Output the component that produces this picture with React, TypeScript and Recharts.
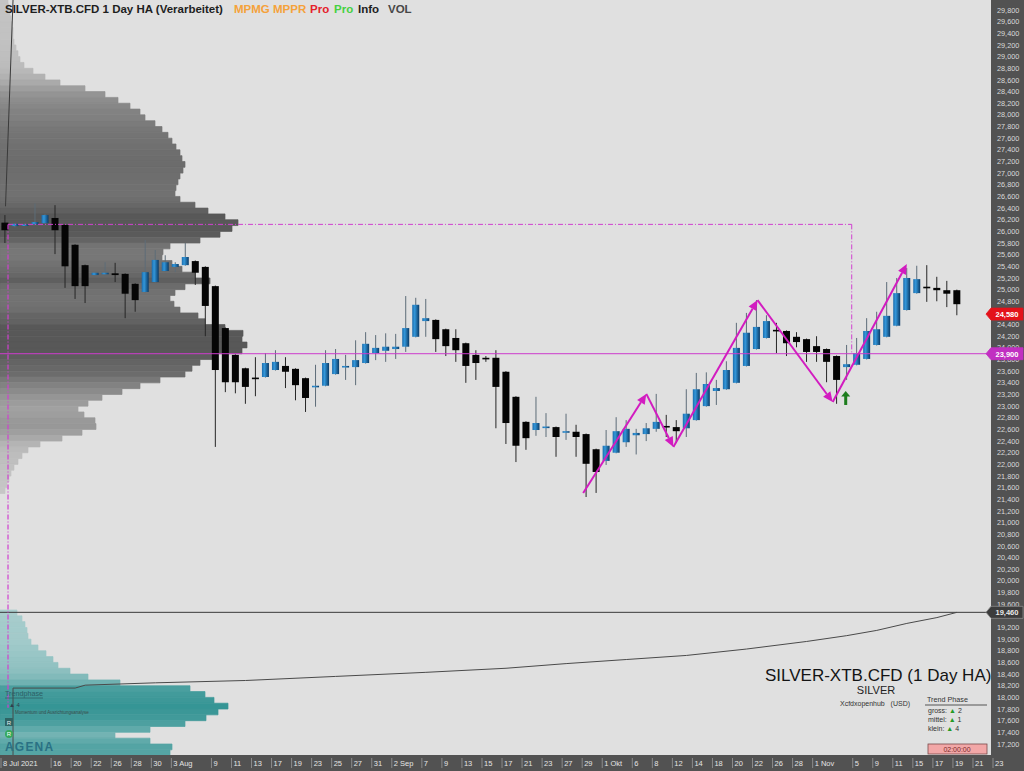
import React from "react";
import {
  ComposedChart,
  Bar,
  Line,
  XAxis,
  YAxis,
  CartesianGrid,
  ReferenceLine,
  ReferenceArea,
  ReferenceDot,
} from "recharts";

const FONT = "'Liberation Sans', Arial, sans-serif";

// ---- trading days (one heikin-ashi candle each) ----
const dates = [
  "2021-07-08","2021-07-12","2021-07-13","2021-07-14","2021-07-15","2021-07-16","2021-07-19","2021-07-20",
  "2021-07-21","2021-07-22","2021-07-23","2021-07-26","2021-07-27","2021-07-28","2021-07-29","2021-07-30",
  "2021-08-02","2021-08-03","2021-08-04","2021-08-05","2021-08-06","2021-08-09","2021-08-10","2021-08-11",
  "2021-08-12","2021-08-13","2021-08-16","2021-08-17","2021-08-18","2021-08-19","2021-08-20","2021-08-23",
  "2021-08-24","2021-08-25","2021-08-26","2021-08-27","2021-08-30","2021-08-31","2021-09-01","2021-09-02",
  "2021-09-03","2021-09-06","2021-09-07","2021-09-08","2021-09-09","2021-09-10","2021-09-13","2021-09-14",
  "2021-09-15","2021-09-16","2021-09-17","2021-09-20","2021-09-21","2021-09-22","2021-09-23","2021-09-24",
  "2021-09-27","2021-09-28","2021-09-29","2021-09-30","2021-10-01","2021-10-04","2021-10-05","2021-10-06",
  "2021-10-07","2021-10-08","2021-10-11","2021-10-12","2021-10-13","2021-10-14","2021-10-15","2021-10-18",
  "2021-10-19","2021-10-20","2021-10-21","2021-10-22","2021-10-25","2021-10-26","2021-10-27","2021-10-28",
  "2021-10-29","2021-11-01","2021-11-02","2021-11-03","2021-11-04","2021-11-05","2021-11-08","2021-11-09",
  "2021-11-10","2021-11-11","2021-11-12","2021-11-15","2021-11-16","2021-11-17","2021-11-18","2021-11-19",
];
const futureDates = ["2021-11-20", "2021-11-21", "2021-11-22", "2021-11-23"];

const opens = [
  26150,26090,26100,26120,26140,26230,26110,25770,25420,25250,25280,25280,25270,25100,24960,25130,
  25320,25390,25420,25490,25390,25060,24340,23880,23650,23490,23500,23620,23690,23640,23480,23330,
  23350,23550,23670,23670,23740,23910,23950,23980,24020,24190,24460,24480,24320,24170,24080,23880,
  23830,23830,23590,23160,22730,22590,22640,22640,22560,22560,22520,22260,22060,22200,22380,22500,
  22520,22610,22660,22640,22620,22760,23000,23260,23290,23400,23690,23980,24170,24310,24290,24190,
  24150,24030,23980,23860,23670,23710,23810,24050,24190,24380,24650,24940,25050,25030,24990,24990,
];
const highs = [
  26280,26140,26140,26480,26300,26450,26120,25780,25430,25300,25470,25460,25280,25110,25850,25680,
  25590,25470,25800,25500,25400,25070,24350,23890,23660,23840,23910,23960,23840,23650,23490,23710,
  23960,23980,23880,24130,24270,24220,24250,24240,24890,24860,24840,24490,24330,24320,24090,23960,
  23860,23960,23600,23170,22740,23160,22880,22650,22870,22680,22530,22270,22590,22810,22760,22610,
  22710,23210,22850,22760,23290,23570,23580,23450,23770,24430,24600,24820,24560,24430,24300,24270,
  24160,24200,23990,23870,24050,24170,24510,24620,25130,25200,25370,25410,25420,25220,25150,25000,
];
const lows = [
  25800,26070,26090,26110,26140,25610,25030,24840,24770,25230,25250,25130,24510,24620,24950,25120,
  25310,25300,25410,25080,24200,22300,23240,23220,23040,23170,23490,23610,23310,23100,22900,22990,
  23340,23540,23450,23360,23730,23790,23760,23810,23930,24180,24190,23930,23860,23760,23400,23450,
  23760,22620,22350,22040,22250,22490,22470,22130,22420,22130,21440,21510,21990,22190,22300,22170,
  22400,22560,22470,22370,22470,22750,22990,23020,23280,23390,23680,23970,24160,23910,23860,24010,
  23760,23760,23410,23040,23450,23700,23800,24040,24180,24370,24640,24930,24790,24800,24700,24560,
];
const closes = [
  26020,26130,26120,26160,26280,26020,25400,25060,25060,25290,25290,25250,24930,24820,25300,25510,
  25470,25440,25560,25290,24720,23620,23410,23410,23330,23480,23740,23760,23590,23360,23140,23350,
  23740,23810,23690,23790,24070,24000,24020,24020,24340,24740,24510,24150,24030,23960,23690,23740,
  23820,23330,22710,22320,22450,22710,22650,22470,22570,22470,22010,21870,22320,22570,22610,22540,
  22620,22730,22650,22570,22870,23290,23380,23310,23620,24000,24260,24360,24460,24290,24080,24100,
  23930,23930,23760,23450,23720,23910,24290,24320,24550,24940,25200,25180,25030,24990,24930,24750,
];

// x-axis labels shown under the candles
const tickLabels: [string, string][] = [
  ["2021-07-08", "8 Jul 2021"], ["2021-07-16", "16"], ["2021-07-20", "20"], ["2021-07-22", "22"],
  ["2021-07-26", "26"], ["2021-07-28", "28"], ["2021-07-30", "30"], ["2021-08-03", "3 Aug"],
  ["2021-08-09", "9"], ["2021-08-11", "11"], ["2021-08-13", "13"], ["2021-08-17", "17"],
  ["2021-08-19", "19"], ["2021-08-23", "23"], ["2021-08-25", "25"], ["2021-08-27", "27"],
  ["2021-08-31", "31"], ["2021-09-02", "2 Sep"], ["2021-09-07", "7"], ["2021-09-09", "9"],
  ["2021-09-13", "13"], ["2021-09-15", "15"], ["2021-09-17", "17"], ["2021-09-21", "21"],
  ["2021-09-23", "23"], ["2021-09-27", "27"], ["2021-09-29", "29"], ["2021-10-01", "1 Okt"],
  ["2021-10-06", "6"], ["2021-10-08", "8"], ["2021-10-12", "12"], ["2021-10-14", "14"],
  ["2021-10-18", "18"], ["2021-10-20", "20"], ["2021-10-22", "22"], ["2021-10-26", "26"],
  ["2021-10-28", "28"], ["2021-11-01", "1 Nov"], ["2021-11-05", "5"], ["2021-11-09", "9"],
  ["2021-11-11", "11"], ["2021-11-15", "15"], ["2021-11-17", "17"], ["2021-11-19", "19"],
  ["2021-11-21", "21"], ["2021-11-23", "23"],
];

// price tags on the right axis
const priceTags: { price: number; text: string; fill: string; color: string; stroke: string }[] = [
  { price: 24580, text: "24,580", fill: "#e3121a", color: "#ffffff", stroke: "#e3121a" },
  { price: 23900, text: "23,900", fill: "#c12fc1", color: "#ffffff", stroke: "#c12fc1" },
  { price: 19460, text: "19,460", fill: "#3c3c3c", color: "#e8e8e8", stroke: "#8a8a8a" },
];
// right axis: every 200 from 17,200 to 29,800 (24,600 and 19,400 are covered by tags)
const hiddenTicks = [24600, 19400];
const gridTicks = Array.from({ length: 64 }, (_, i) => 17200 + 200 * i).filter((v) => !hiddenTicks.includes(v));
const priceTicks = [...gridTicks, ...priceTags.map((t) => t.price)];

// volume profile (upper, gray): [row price, volume]
const grayProfile: [number, number][] = [
  [29900, 8], [29800, 9], [29700, 10], [29600, 11], [29500, 12], [29400, 13], [29300, 13], [29200, 14],
  [29100, 16], [29000, 18], [28900, 20], [28800, 24], [28700, 33], [28600, 45], [28500, 60], [28400, 85],
  [28300, 105], [28200, 118], [28100, 130], [28000, 140], [27900, 145], [27800, 155], [27700, 162],
  [27600, 168], [27500, 172], [27400, 176], [27300, 180], [27200, 182], [27100, 185], [27000, 183],
  [26900, 180], [26800, 178], [26700, 176], [26600, 175], [26500, 180], [26400, 195], [26300, 208],
  [26200, 225], [26100, 238], [26000, 232], [25900, 220], [25800, 200], [25700, 170], [25600, 163],
  [25500, 162], [25400, 172], [25300, 182], [25200, 195], [25100, 210], [25000, 185], [24900, 175],
  [24800, 170], [24700, 174], [24600, 180], [24500, 198], [24400, 205], [24300, 225], [24200, 243],
  [24100, 242], [24000, 247], [23900, 242], [23800, 215], [23700, 200], [23600, 192], [23500, 185],
  [23400, 160], [23300, 140], [23200, 122], [23100, 102], [23000, 88], [22900, 78], [22800, 84],
  [22700, 95], [22600, 96], [22500, 82], [22400, 62], [22300, 40], [22200, 28], [22100, 22],
  [22000, 18], [21900, 14], [21800, 11], [21700, 9], [21600, 7], [21500, 5],
];
// volume profile (lower, teal)
const tealProfile: [number, number][] = [
  [19400, 17], [19300, 22], [19200, 25], [19100, 27], [19000, 28], [18900, 31], [18800, 38], [18700, 46],
  [18600, 53], [18500, 58], [18400, 70], [18300, 88], [18200, 120], [18100, 190], [18000, 205],
  [17900, 214], [17800, 228], [17700, 218], [17600, 206], [17500, 185], [17400, 150], [17300, 115],
  [17200, 150], [17100, 172], [17000, 170],
];
const profileStep = 100;
// profile volume expressed in candle slots (full profile scale = chart width)
const volPerSlot = 991 / 98.9;

const pocPrice = 26120;
const valuePrice = 23900;
const lowerLevel = 19460;
const pocEndSlot = 84.5;
const pocStartSlot = 0.3;
const pocDropTo = 17820;

// magenta zig-zag swing points: [slot, price]
const zigzag: [number, number][] = [
  [57.7, 21510], [64.0, 23210], [66.7, 22300], [75.1, 24820], [82.6, 23070], [90.0, 25440],
];
const signalArrow: [number, number] = [83.9, 23140];

// slow indicator line: [slot, value]
const indicator: [number, number][] = [
  [0.8, 17011], [0.8, 18160], [7, 18160], [8, 18210], [15, 18250], [24, 18290], [33, 18360],
  [42, 18430], [50, 18500], [56, 18580], [62, 18650], [68, 18720], [74, 18830], [80, 18960],
  [84, 19060], [87, 19150], [90, 19270], [93, 19370], [95, 19460],
];
const steepLine: [number, number][] = [[0.05, 26430], [0.8, 29972]];

// ---------------------------------------------------------------
const allSlots = [...dates, ...futureDates];
const slotOf = (d: string) => allSlots.indexOf(d);
const candles = dates.map((d, i) => ({ x: i, date: d, o: opens[i], h: highs[i], l: lows[i], c: closes[i] }));
const tickSlots = tickLabels.map(([d]) => slotOf(d));
const tickText = new Map(tickLabels.map(([d, l]) => [slotOf(d), l]));
const indicatorData = indicator.map(([x, v]) => ({ x, v }));
const tagByPrice = new Map(priceTags.map((t) => [t.price, t]));
const X_MIN = -0.5;

const grayShade = (v: number) => {
  const g = Math.max(88, Math.round(200 - 0.5 * v));
  return `rgb(${g},${g},${g})`;
};
const tealShade = (v: number) => {
  const t = Math.min(v / 230, 1);
  return `rgb(${Math.round(178 - t * 126)},${Math.round(210 - t * 62)},${Math.round(210 - t * 62)})`;
};

const Candle = (props: any) => {
  let { x, y, width, height, payload } = props;
  if (height < 0) {
    y = y + height;
    height = -height;
  }
  const { o, h, l, c } = payload;
  const k = height / (h - l);
  const yv = (v: number) => y + (h - v) * k;
  const cx = x + width / 2;
  const up = c >= o;
  const top = yv(Math.max(o, c));
  const bot = yv(Math.min(o, c));
  const bh = Math.max(bot - top, 1.6);
  return (
    <g>
      <line x1={cx} x2={cx} y1={y} y2={y + height} stroke={up ? "#5d6c78" : "#262626"} strokeWidth={1} />
      <rect x={cx - 3.5} y={top} width={7} height={bh} fill={up ? "url(#haBlue)" : "#050505"} />
    </g>
  );
};

const XTick = (props: any) => {
  const { x, payload } = props;
  const label = tickText.get(payload.value);
  if (!label) return null;
  return (
    <g>
      <line x1={x - 4} x2={x - 4} y1={758} y2={768} stroke="#8c8c8c" strokeWidth={1} />
      <text x={x - 2} y={766} fill="#e4e4e4" fontSize={7.5} fontFamily={FONT}>
        {label}
      </text>
    </g>
  );
};

const YTick = (props: any) => {
  const { y, payload } = props;
  const tag = tagByPrice.get(payload.value);
  if (tag) {
    const x = 991;
    return (
      <g>
        <polygon
          points={`${x - 5},${y} ${x},${y - 6} ${x + 32},${y - 6} ${x + 32},${y + 6} ${x},${y + 6}`}
          fill={tag.fill}
          stroke={tag.stroke}
          strokeWidth={0.8}
        />
        <text x={x + 16} y={y + 2.8} textAnchor="middle" fill={tag.color} fontSize={7.5} fontWeight="bold" fontFamily={FONT}>
          {tag.text}
        </text>
      </g>
    );
  }
  return (
    <text x={997} y={y + 2.6} fill="#dadada" fontSize={7.3} fontFamily={FONT}>
      {Number(payload.value).toLocaleString("en-US")}
    </text>
  );
};

const ArrowSeg = (props: any) => {
  const { x1, y1, x2, y2 } = props;
  if ([x1, y1, x2, y2].some((v) => v == null || isNaN(v))) return null;
  const ang = Math.atan2(y2 - y1, x2 - x1);
  const L = 10;
  const W = 4.5;
  const bx = x2 - L * Math.cos(ang);
  const by = y2 - L * Math.sin(ang);
  const px = -Math.sin(ang) * W;
  const py = Math.cos(ang) * W;
  return (
    <g>
      <line x1={x1} y1={y1} x2={bx} y2={by} stroke="#d21cc0" strokeWidth={2} />
      <polygon points={`${x2},${y2} ${bx + px},${by + py} ${bx - px},${by - py}`} fill="#d21cc0" />
    </g>
  );
};

const GreenArrow = (props: any) => {
  const { cx, cy } = props;
  if (cx == null) return null;
  return (
    <g fill="#1d7d1d">
      <polygon points={`${cx},${cy - 7} ${cx - 4.5},${cy - 1.5} ${cx + 4.5},${cy - 1.5}`} />
      <rect x={cx - 1.5} y={cy - 2} width={3} height={9} />
    </g>
  );
};

const Annotations = () => (
  <svg
    width={1024}
    height={771}
    style={{ position: "absolute", left: 0, top: 0, pointerEvents: "none" }}
  >
    {/* header */}
    <text x={5} y={13} fontFamily={FONT} fontWeight="bold" fontSize={11.5}>
      <tspan fill="#1e1e1e">SILVER-XTB.CFD 1 Day HA (Verarbeitet)</tspan>
      <tspan x={234} fill="#f5a23a">MPMG</tspan>
      <tspan x={273} fill="#f5a23a">MPPR</tspan>
      <tspan x={310} fill="#e5222b">Pro</tspan>
      <tspan x={334} fill="#46d142">Pro</tspan>
      <tspan x={358} fill="#1e1e1e">Info</tspan>
      <tspan x={388} fill="#474747">VOL</tspan>
    </text>

    {/* lower-right info block */}
    <text x={765} y={681} fontFamily={FONT} fontSize={17} fill="#141414">
      SILVER-XTB.CFD (1 Day HA)
    </text>
    <text x={876} y={694} fontFamily={FONT} fontSize={11} fill="#222" textAnchor="middle">
      SILVER
    </text>
    <text x={840} y={706} fontFamily={FONT} fontSize={7} fill="#333" xmlSpace="preserve">
      Xcfdxopenhub   (USD)
    </text>
    <text x={927} y={702} fontFamily={FONT} fontSize={7.2} fill="#333">
      Trend Phase
    </text>
    <line x1={925} x2={987} y1={705} y2={705} stroke="#555" strokeWidth={1} />
    <text x={928} y={713} fontFamily={FONT} fontSize={7} fill="#333">
      gross: <tspan fill="#259a25">▲</tspan> 2
    </text>
    <text x={928} y={722} fontFamily={FONT} fontSize={7} fill="#333">
      mittel: <tspan fill="#259a25">▲</tspan> 1
    </text>
    <text x={928} y={731} fontFamily={FONT} fontSize={7} fill="#333">
      klein: <tspan fill="#259a25">▲</tspan> 4
    </text>
    <rect x={928} y={744} width={59} height={10} fill="#f2a7a7" stroke="#7a4a4a" strokeWidth={0.8} />
    <text x={957} y={751.5} fontFamily={FONT} fontSize={7} fill="#7a2a2a" textAnchor="middle">
      02:00:00
    </text>

    {/* lower-left panel */}
    <text x={5} y={696} fontFamily={FONT} fontSize={7.2} fill="#2d5f66">
      Trendphase
    </text>
    <line x1={5} x2={43} y1={698} y2={698} stroke="#2d5f66" strokeWidth={0.8} />
    <text x={9} y={707} fontFamily={FONT} fontSize={6} fill="#2f3f4f">
      ▲ 4
    </text>
    <text x={15} y={714} fontFamily={FONT} fontSize={4.5} fill="#3d4d4d">
      Momentum und Ausrichtungsanalyse
    </text>
    <rect x={5} y={718} width={8} height={8} fill="#2e6464" />
    <text x={9} y={724.5} fontFamily={FONT} fontSize={6} fill="#e8f0f0" textAnchor="middle">
      R
    </text>
    <circle cx={9} cy={734} r={4} fill="#35a85a" />
    <text x={9} y={736.3} fontFamily={FONT} fontSize={6} fill="#ffffff" textAnchor="middle">
      R
    </text>
    <text x={5} y={751} fontFamily={FONT} fontSize={12} fontWeight="bold" fill="#2a7184" letterSpacing={1.2}>
      AGENA
    </text>
  </svg>
);

export default function App() {
  return (
    <div style={{ position: "absolute", left: 0, top: 0, width: 1024, height: 771, background: "#525252" }}>
      <ComposedChart
        width={1024}
        height={771}
        data={candles}
        margin={{ top: 0, right: 0, bottom: 0, left: 0 }}
      >
        <defs>
          <linearGradient id="haBlue" x1="0" y1="0" x2="1" y2="0">
            <stop offset="0%" stopColor="#1c6cac" />
            <stop offset="35%" stopColor="#3397da" />
            <stop offset="100%" stopColor="#0a3a66" />
          </linearGradient>
        </defs>
        <CartesianGrid fill="#e0e0e0" horizontal={false} vertical={false} />
        <XAxis
          dataKey="x"
          type="number"
          domain={[X_MIN, 98.4]}
          allowDataOverflow
          ticks={tickSlots}
          interval={0}
          height={16}
          axisLine={false}
          tickLine={false}
          tick={<XTick />}
        />
        <YAxis
          orientation="right"
          type="number"
          domain={[17011, 29972]}
          allowDataOverflow
          ticks={priceTicks}
          interval={0}
          width={33}
          axisLine={false}
          tickLine={false}
          tick={<YTick />}
        />

        {grayProfile.map(([p, v]) => (
          <ReferenceArea
            key={"g" + p}
            x1={X_MIN}
            x2={X_MIN + v / volPerSlot}
            y1={p}
            y2={p + profileStep}
            fill={grayShade(v)}
            fillOpacity={1}
            stroke={grayShade(v)}
            strokeWidth={0.7}
            ifOverflow="hidden"
          />
        ))}
        {tealProfile.map(([p, v]) => (
          <ReferenceArea
            key={"t" + p}
            x1={X_MIN}
            x2={X_MIN + v / volPerSlot}
            y1={p}
            y2={p + profileStep}
            fill={tealShade(v)}
            fillOpacity={1}
            stroke={tealShade(v)}
            strokeWidth={0.7}
            ifOverflow="hidden"
          />
        ))}

        <ReferenceLine y={lowerLevel} stroke="#3a3a3a" strokeWidth={1} />
        <ReferenceLine
          segment={[{ x: steepLine[0][0], y: steepLine[0][1] }, { x: steepLine[1][0], y: steepLine[1][1] }]}
          stroke="#3a3a3a"
          strokeWidth={1}
          ifOverflow="visible"
        />
        <Line
          data={indicatorData}
          dataKey="v"
          type="linear"
          stroke="#4a4a4a"
          strokeWidth={1}
          dot={false}
          activeDot={false}
          isAnimationActive={false}
        />

        <ReferenceLine
          segment={[{ x: pocStartSlot, y: pocPrice }, { x: pocEndSlot, y: pocPrice }]}
          stroke="#d040d0"
          strokeWidth={1}
          strokeDasharray="5 2 1 2"
        />
        <ReferenceLine
          segment={[{ x: pocEndSlot, y: pocPrice }, { x: pocEndSlot, y: valuePrice }]}
          stroke="#d040d0"
          strokeWidth={1}
          strokeDasharray="5 2 1 2"
        />
        <ReferenceLine
          segment={[{ x: pocStartSlot, y: pocPrice }, { x: pocStartSlot, y: pocDropTo }]}
          stroke="#d040d0"
          strokeWidth={1.2}
          strokeDasharray="5 2 1 2"
        />

        <Bar
          dataKey={(d: any) => [d.l, d.h]}
          barSize={7}
          isAnimationActive={false}
          shape={<Candle />}
        />

        <ReferenceLine y={valuePrice} stroke="#cc3acc" strokeWidth={1} />

        {zigzag.slice(1).map((pt, i) => (
          <ReferenceLine
            key={"z" + i}
            segment={[{ x: zigzag[i][0], y: zigzag[i][1] }, { x: pt[0], y: pt[1] }]}
            shape={(p: any) => <ArrowSeg {...p} />}
          />
        ))}
        <ReferenceDot x={signalArrow[0]} y={signalArrow[1]} r={5} shape={(p: any) => <GreenArrow {...p} />} />
      </ComposedChart>
      <Annotations />
    </div>
  );
}
